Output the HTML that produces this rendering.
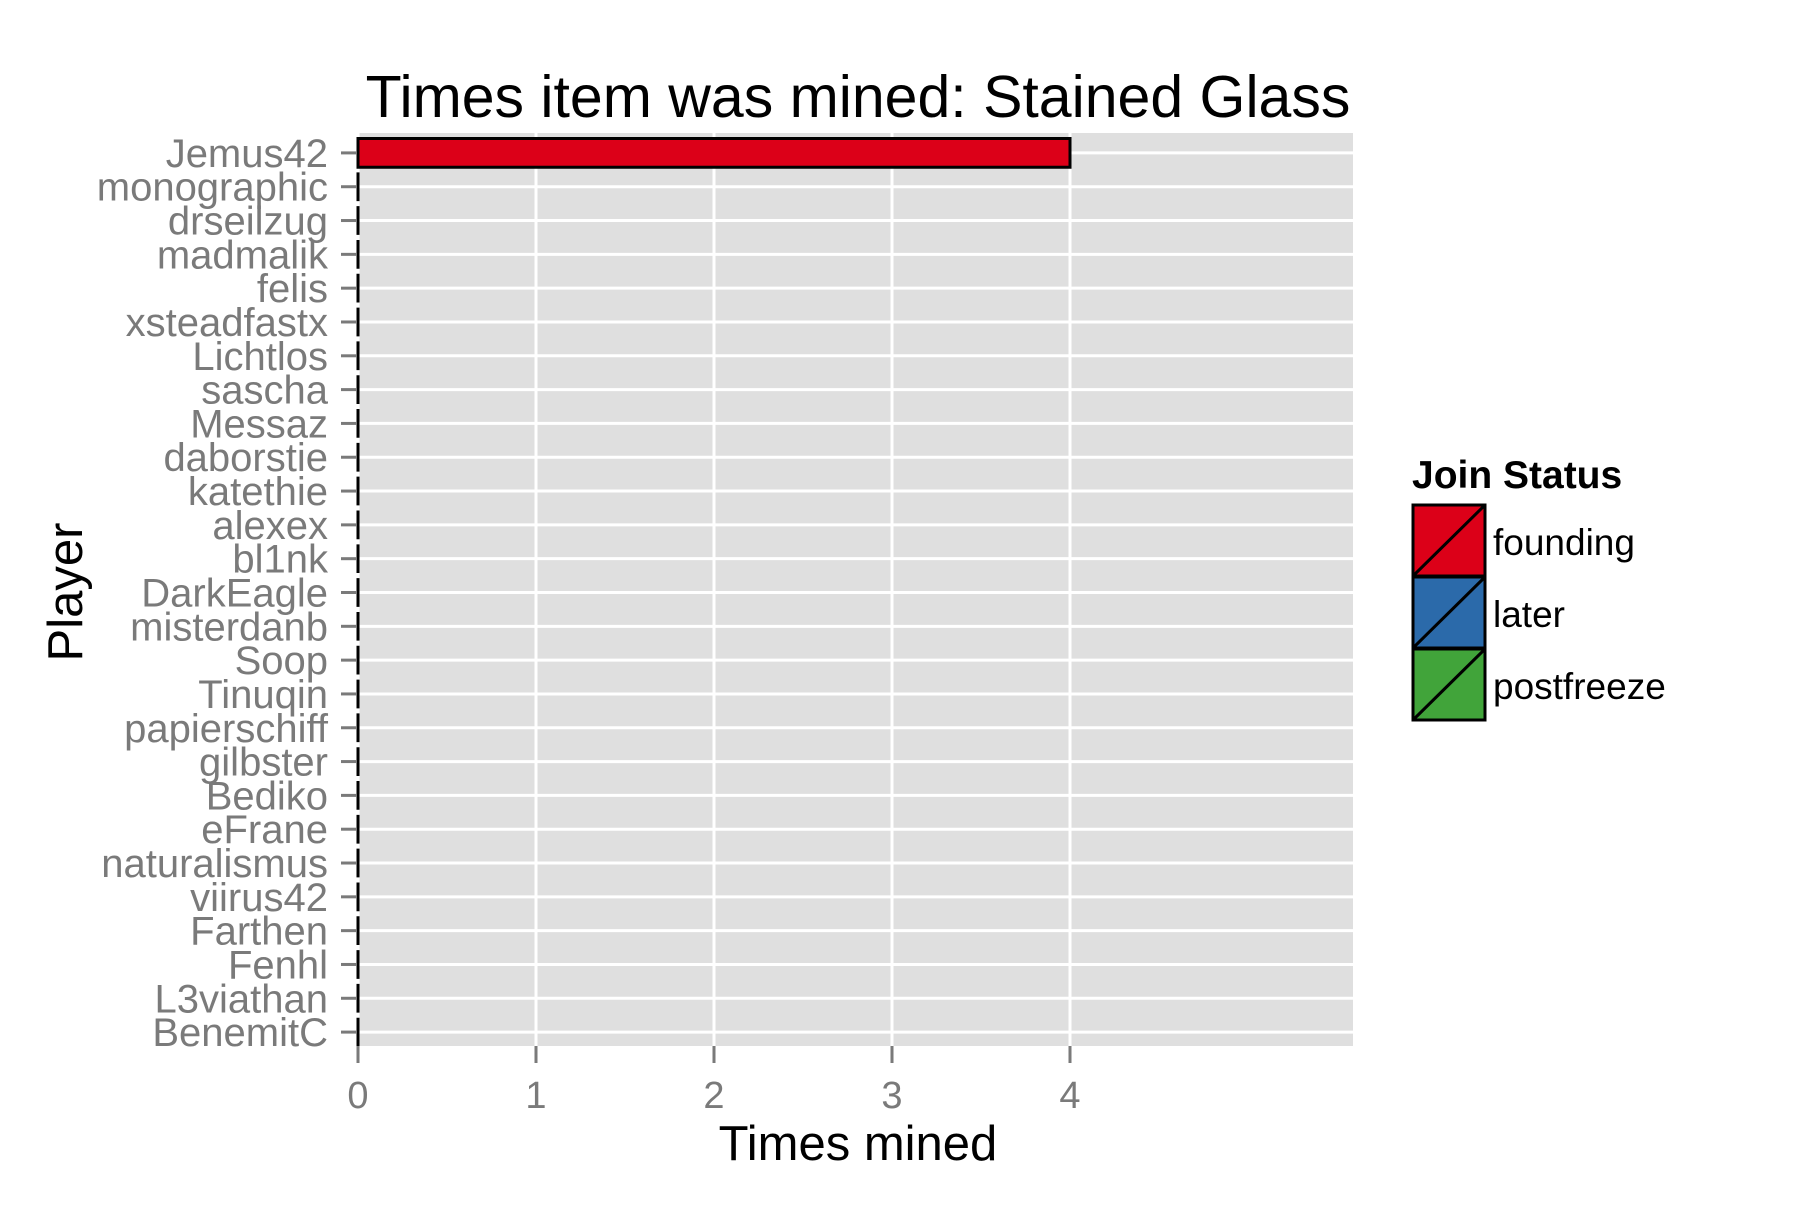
<!DOCTYPE html>
<html><head><meta charset="utf-8"><style>
body{margin:0;background:#fff}
svg text{font-family:"Liberation Sans",Arial,sans-serif}
</style></head><body>
<svg id="chart" width="1800" height="1200" xmlns="http://www.w3.org/2000/svg">
<text x="858" y="117" font-size="59" text-anchor="middle" fill="#000">Times item was mined: Stained Glass</text>
<rect x="357" y="133" width="996" height="913" fill="#dfdfdf"/>
<g id="grid"></g><g id="bars"></g><g id="yaxis"></g><g id="xaxis"></g>
<text x="858" y="1160" font-size="49" text-anchor="middle" fill="#000">Times mined</text>
<text transform="translate(82,592) rotate(-90)" font-size="49" text-anchor="middle" fill="#000">Player</text>
<g>
<text x="1412" y="488" font-size="39" font-weight="bold" fill="#000">Join Status</text>
<g id="legend"></g>
</g>
</svg>
<script>
const players=["Jemus42","monographic","drseilzug","madmalik","felis","xsteadfastx","Lichtlos","sascha","Messaz","daborstie","katethie","alexex","bl1nk","DarkEagle","misterdanb","Soop","Tinuqin","papierschiff","gilbster","Bediko","eFrane","naturalismus","viirus42","Farthen","Fenhl","L3viathan","BenemitC"];
const values=[4,0,0,0,0,0,0,0,0,0,0,0,0,0,0,0,0,0,0,0,0,0,0,0,0,0,0];
const statuses=["founding","founding","founding","founding","founding","founding","founding","founding","founding","founding","founding","founding","founding","founding","founding","founding","founding","founding","founding","founding","founding","founding","founding","founding","founding","founding","founding"];
const xTicks=[0,1,2,3,4];
const legendLabels=["founding","later","postfreeze"];
const legendColors=["#DC0018","#2B6AAA","#41A43A"];
const NS="http://www.w3.org/2000/svg";
const px0=358,pxPer=178,panelTop=136,band=913/27;
const xs=v=>px0+v*pxPer;
const ys=i=>panelTop+band*(i+0.5);
function mk(tag,attrs,parent,txt){const e=document.createElementNS(NS,tag);for(const k in attrs)e.setAttribute(k,attrs[k]);if(txt!==undefined)e.textContent=txt;document.getElementById(parent).appendChild(e);return e;}
xTicks.forEach(t=>{const l=mk('line',{x1:xs(t),x2:xs(t),y1:133,y2:1046,stroke:'#fff','stroke-width':3},'grid');

});
players.forEach((p,i)=>{const l=mk('line',{x1:357,x2:1353,y1:ys(i),y2:ys(i),stroke:'#fff','stroke-width':3},'grid');

});
players.forEach((p,i)=>{
const col=legendColors[legendLabels.indexOf(statuses[i])];
const h=band*0.85;
const x0=xs(0),x1=xs(values[i]),yt=ys(i)-h/2,yb=ys(i)+h/2;
const r=mk('path',{d:`M${x0},${yt}L${x1},${yt}L${x1},${yb}L${x0},${yb}Z`,fill:col,stroke:'#000','stroke-width':3},'bars');


const tk=mk('line',{x1:341,x2:357,y1:ys(i),y2:ys(i),stroke:'#7a7a7a','stroke-width':3},'yaxis');


const tx=mk('text',{x:328,y:ys(i)+14,'font-size':40,'text-anchor':'end',fill:'#7a7a7a'},'yaxis',p);


});
xTicks.forEach(t=>{
const tk=mk('line',{x1:xs(t),x2:xs(t),y1:1046,y2:1063,stroke:'#7a7a7a','stroke-width':3},'xaxis');


const tx=mk('text',{x:xs(t),y:1108,'font-size':38,'text-anchor':'middle',fill:'#7a7a7a'},'xaxis',String(t));


});
legendLabels.forEach((lab,i)=>{
const y0=505+i*72;
const r=mk('rect',{x:1413,y:y0,width:72,height:71,fill:legendColors[i],stroke:'#000','stroke-width':3},'legend');


const d=mk('line',{x1:1413,y1:y0+71,x2:1485,y2:y0,stroke:'#000','stroke-width':3},'legend');


const t=mk('text',{x:1493,y:y0+50,'font-size':37,fill:'#000'},'legend',lab);


});
</script>
</body></html>
